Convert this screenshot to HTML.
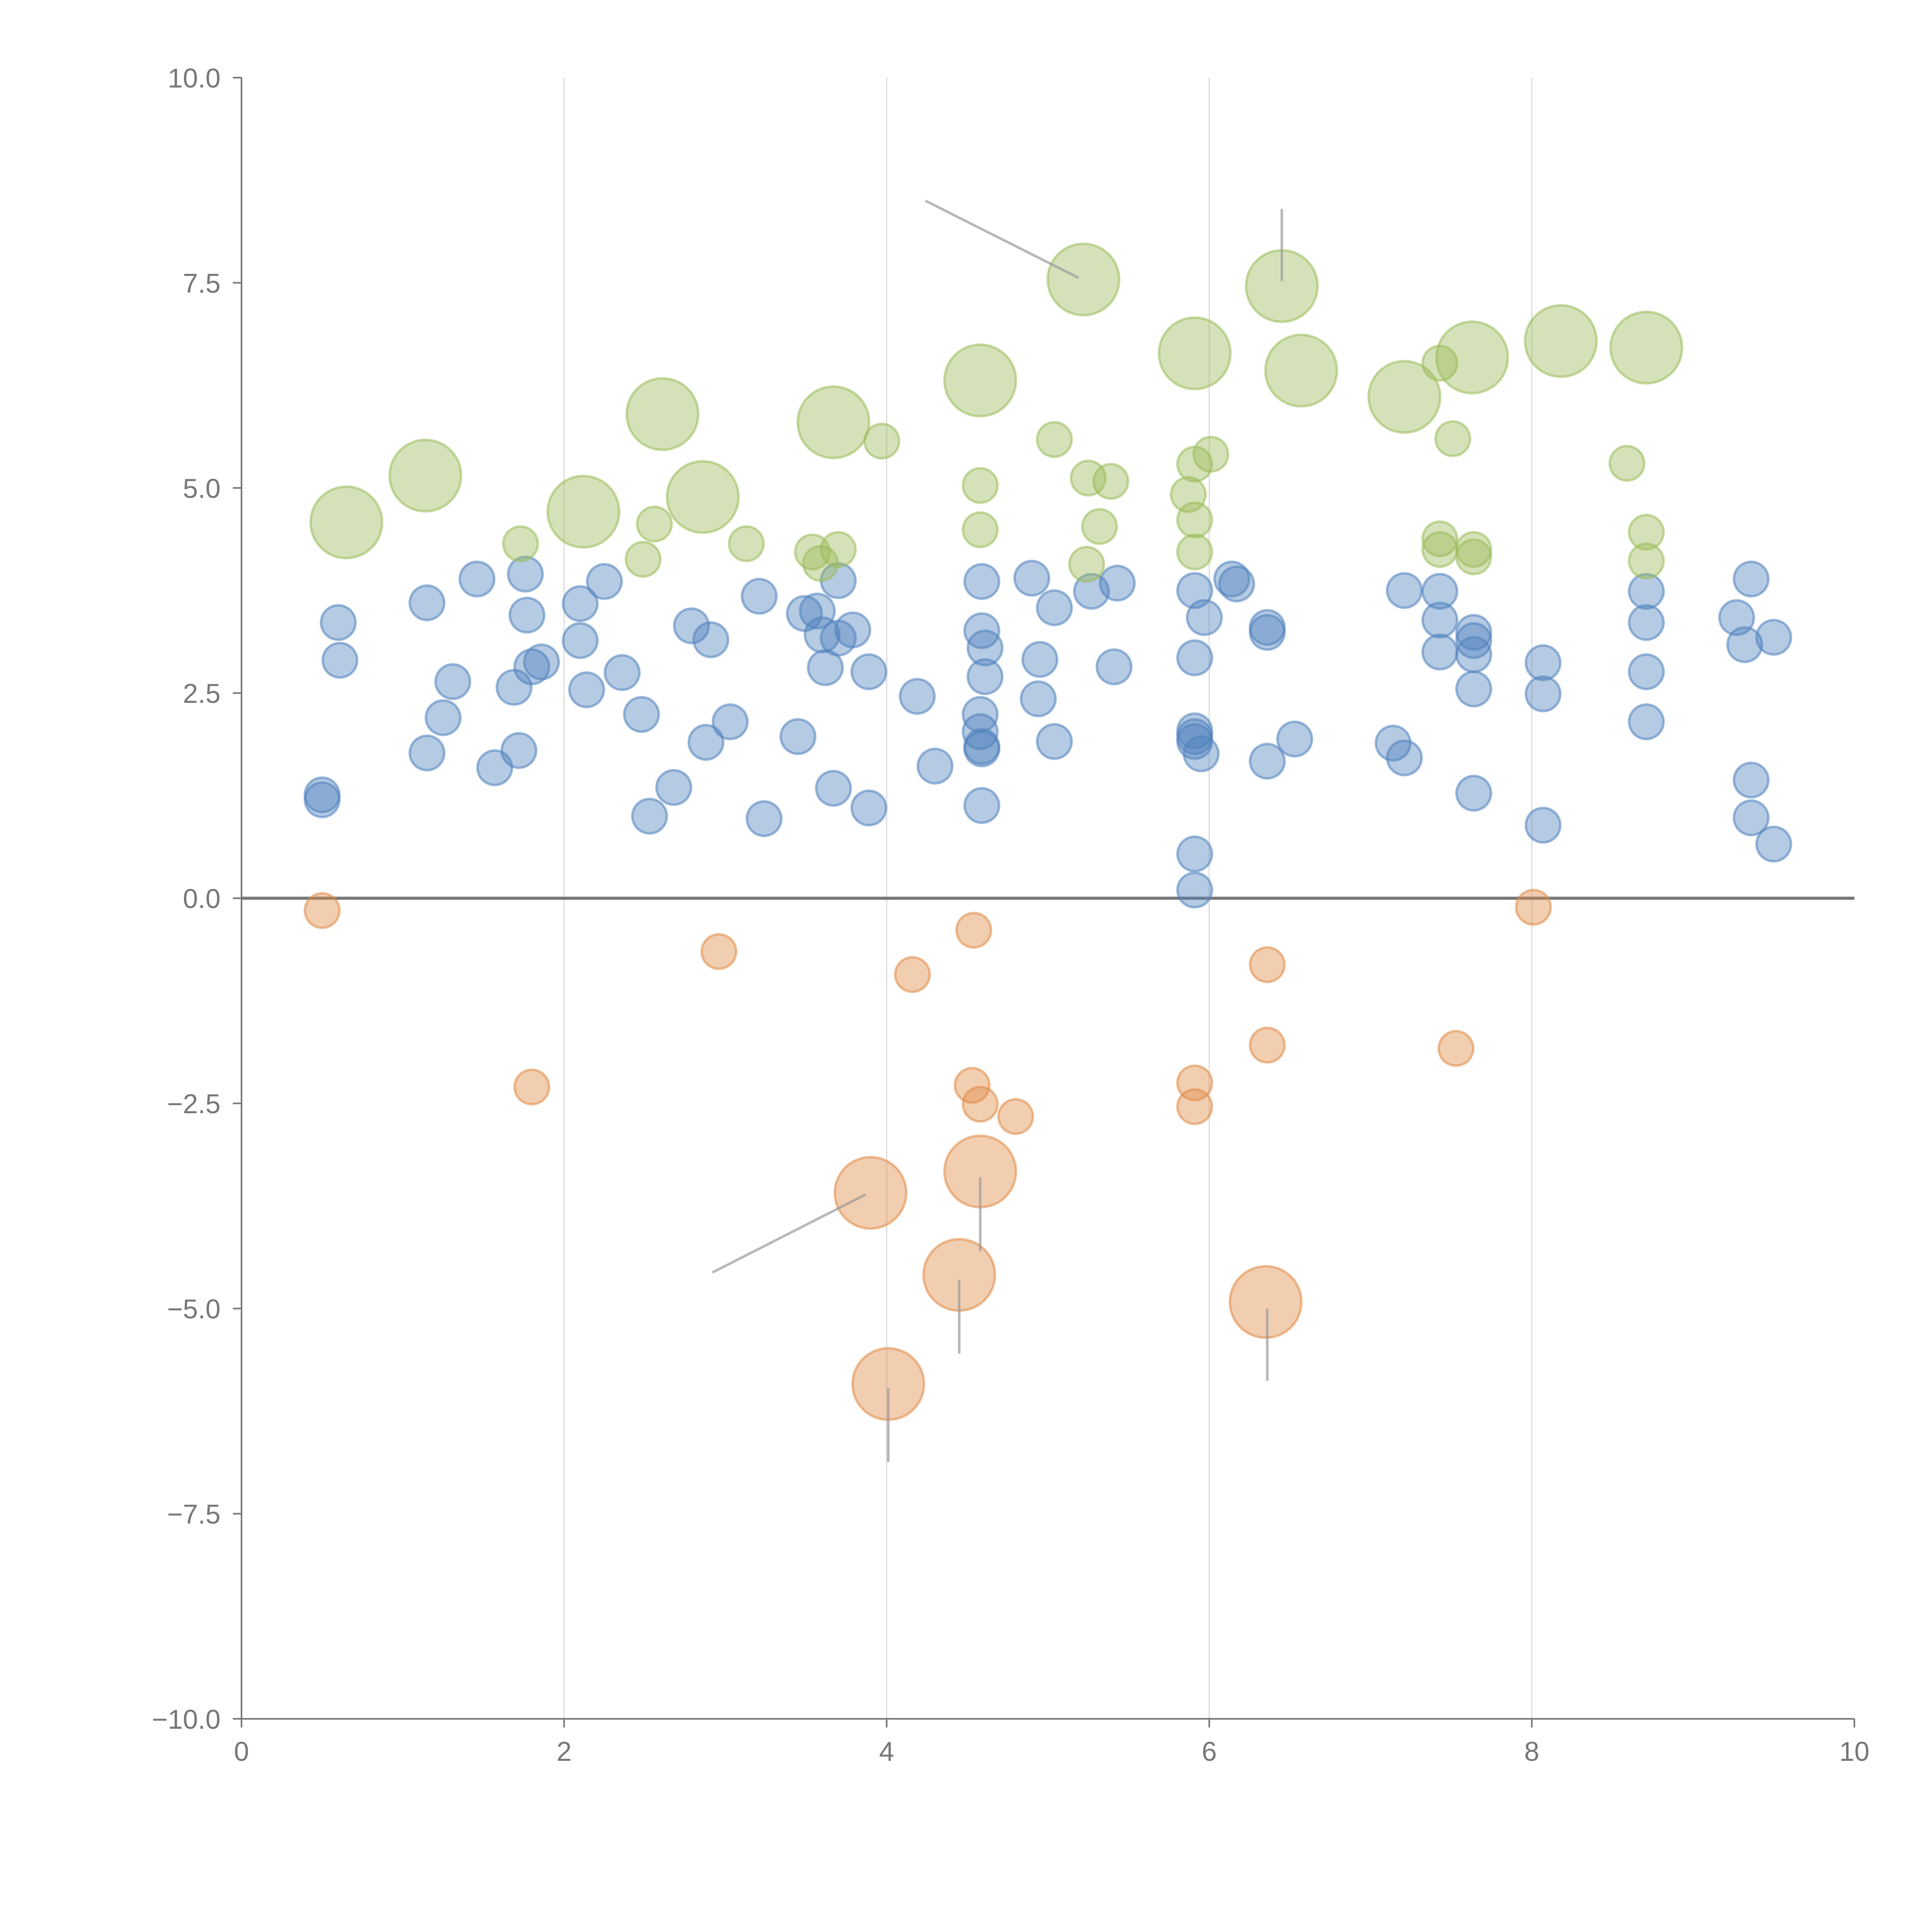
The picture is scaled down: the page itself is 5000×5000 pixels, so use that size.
<!DOCTYPE html>
<html><head><meta charset="utf-8"><style>html,body{margin:0;padding:0;background:#fff}svg{display:block}</style></head>
<body>
<svg id="chart" width="5000" height="5000" viewBox="0 0 1568 1568" xmlns="http://www.w3.org/2000/svg" font-family="Liberation Sans, sans-serif">
<g id="grid"></g>
<g id="axes"></g>
<g id="marks"></g>
</svg>
<script>
const xTicks=[0,2,4,6,8,10];
const yTicks=[10,7.5,5,2.5,0,-2.5,-5,-7.5,-10];
const yTickLabels=["10.0","7.5","5.0","2.5","0.0","\u22122.5","\u22125.0","\u22127.5","\u221210.0"];
const blueX=[0.5,0.5,0.6,0.61,1.15,1.15,1.25,1.31,1.46,1.57,1.69,1.72,1.76,1.77,1.8,1.86,2.1,2.1,2.14,2.25,2.36,2.48,2.53,2.68,2.79,2.88,2.91,3.03,3.21,3.24,3.45,3.49,3.57,3.6,3.62,3.67,3.7,3.7,3.79,3.89,3.89,4.19,4.3,4.59,4.59,4.61,4.61,4.58,4.58,4.59,4.59,4.59,4.9,4.95,4.94,5.04,5.04,5.27,5.41,5.43,5.91,5.91,5.97,5.91,5.91,5.91,5.95,5.91,5.91,6.14,6.17,6.36,6.36,6.36,6.53,7.14,7.21,7.21,7.43,7.43,7.43,7.64,7.64,7.64,7.64,7.64,8.07,8.07,8.07,8.71,8.71,8.71,8.71,9.27,9.32,9.36,9.36,9.36,9.5,9.5];
const blueY=[1.26,1.2,3.36,2.9,3.6,1.77,2.2,2.64,3.89,1.59,2.57,1.8,3.95,3.45,2.82,2.88,3.59,3.14,2.54,3.86,2.75,2.24,1.0,1.35,3.32,1.9,3.15,2.15,3.68,0.97,1.97,3.47,3.5,3.21,2.81,1.34,3.87,3.17,3.27,2.76,1.1,2.46,1.61,3.86,3.26,3.05,2.7,2.24,2.03,1.85,1.82,1.13,3.9,2.91,2.43,3.54,1.91,3.74,2.82,3.84,2.93,3.75,3.42,2.04,1.97,1.91,1.76,0.54,0.1,3.89,3.83,3.3,3.24,1.67,1.94,1.89,1.71,3.75,3.74,3.39,3.0,3.24,3.14,2.97,2.55,1.28,2.87,2.49,0.89,3.74,3.36,2.76,2.15,3.42,3.09,3.89,1.44,0.98,3.18,0.66];
const greenSmallX=[1.73,2.56,2.49,3.13,3.54,3.59,3.7,3.97,4.58,4.58,5.04,5.25,5.39,5.32,5.24,5.87,5.91,6.01,5.91,5.91,7.43,7.51,7.43,7.43,7.64,7.64,8.59,8.71,8.71];
const greenSmallY=[4.32,4.56,4.13,4.32,4.22,4.08,4.25,5.57,5.03,4.49,5.59,5.12,5.08,4.53,4.07,4.92,5.29,5.41,4.61,4.22,6.52,5.6,4.38,4.25,4.25,4.16,5.3,4.46,4.11];
const greenLargeX=[0.65,1.14,2.12,2.61,2.86,3.67,4.58,5.22,5.91,6.45,6.57,7.21,7.63,8.18,8.71];
const greenLargeY=[4.58,5.15,4.71,5.9,4.89,5.8,6.31,7.54,6.64,7.46,6.43,6.11,6.59,6.79,6.71];
const orangeSmallX=[0.5,1.8,2.96,4.16,4.54,4.53,4.58,4.8,5.91,5.91,6.36,6.36,7.53,8.01];
const orangeSmallY=[-0.15,-2.3,-0.65,-0.93,-0.39,-2.28,-2.51,-2.66,-2.25,-2.54,-0.81,-1.79,-1.83,-0.11];
const orangeLargeX=[3.9,4.58,4.45,4.01,6.35];
const orangeLargeY=[-3.59,-3.33,-4.59,-5.92,-4.92];
const leaderX1=[4.24,6.45,2.92,4.58,4.45,4.01,6.36];
const leaderY1=[8.5,8.4,-4.56,-3.4,-4.65,-5.97,-5.0];
const leaderX2=[5.19,6.45,3.87,4.58,4.45,4.01,6.36];
const leaderY2=[7.56,7.52,-3.61,-4.3,-5.55,-6.87,-5.88];

const X0=196,X1=1505,Y0=1395,Y1=63;
const sx=v=>X0+(v-0)/10*(X1-X0);
const sy=v=>Y0-(v+10)/20*(Y0-Y1);
const NS="http://www.w3.org/2000/svg";
function mk(t,a,p){const e=document.createElementNS(NS,t);for(const k in a)e.setAttribute(k,a[k]);p.appendChild(e);return e;}
const grid=document.getElementById('grid'),axes=document.getElementById('axes'),marks=document.getElementById('marks');
[2,4,6,8].forEach(v=>{const l=mk('line',{x1:sx(v),x2:sx(v),y1:Y1,y2:Y0,stroke:'#dddddd','stroke-width':1},grid);

});
let a=mk('line',{x1:X0,x2:X0,y1:Y1,y2:Y0,stroke:'#777','stroke-width':1.3},axes);


a=mk('line',{x1:X0,x2:X1,y1:Y0,y2:Y0,stroke:'#777','stroke-width':1.3},axes);


xTicks.forEach(v=>{mk('line',{x1:sx(v),x2:sx(v),y1:Y0,y2:Y0+7,stroke:'#777','stroke-width':1.3},axes);
const t=mk('text',{x:sx(v),y:Y0+34,'text-anchor':'middle','font-size':22,fill:'#777'},axes);t.textContent=String(v);

});
yTicks.forEach((v,i)=>{mk('line',{x1:X0-7,x2:X0,y1:sy(v),y2:sy(v),stroke:'#777','stroke-width':1.3},axes);
const t=mk('text',{x:X0-17,y:sy(v)+8,'text-anchor':'end','font-size':22,fill:'#777'},axes);t.textContent=yTickLabels[i];

});
function dots(xs,ys,r,fill,stroke,name){xs.forEach((x,i)=>{const c=mk('circle',{cx:sx(x),cy:sy(ys[i]),r:r,fill:fill,'fill-opacity':0.42,stroke:stroke,'stroke-opacity':0.55,'stroke-width':2},marks);

});}
dots(blueX,blueY,14,'#4f81bd','#4f81bd','blue-bubble');
dots(greenSmallX,greenSmallY,14,'#9bbb59','#9bbb59','green-bubble');
dots(greenLargeX,greenLargeY,29,'#9bbb59','#9bbb59','green-large-bubble');
dots(orangeSmallX,orangeSmallY,14,'#e08a45','#e08a45','orange-bubble');
dots(orangeLargeX,orangeLargeY,29,'#e08a45','#e08a45','orange-large-bubble');
const z=mk('line',{x1:X0,x2:X1,y1:sy(0),y2:sy(0),stroke:'#777','stroke-width':2.5},axes);


leaderX1.forEach((x,i)=>{const l=mk('line',{x1:sx(x),y1:sy(leaderY1[i]),x2:sx(leaderX2[i]),y2:sy(leaderY2[i]),stroke:'#999','stroke-opacity':0.7,'stroke-width':2},marks);

});
</script>
</body></html>
